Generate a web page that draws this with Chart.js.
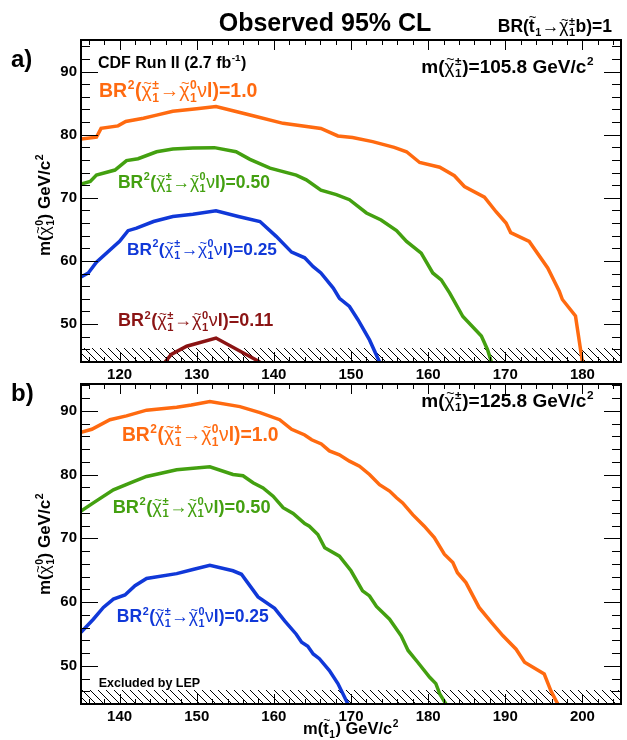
<!DOCTYPE html>
<html>
<head>
<meta charset="utf-8">
<script src="https://cdn.jsdelivr.net/npm/chart.js@4.4.1/dist/chart.umd.min.js"></script>
<style>
  html, body { margin: 0; padding: 0; background: #fff; }
  #wrap { position: relative; width: 627px; height: 740px; }
  #wrap canvas { position: absolute; left: 0; top: 0; }
</style>
</head>
<body>
<div id="wrap">
  <canvas id="panelA" width="627" height="740"></canvas>
  <canvas id="panelB" width="627" height="740"></canvas>
</div>
<script>
// ---- data: panel a) m(chargino) = 105.8 ----
const aOrange = [[115, 79.3], [117, 79.6], [117.6, 81.0], [119.8, 81.4], [120.8, 82.1], [123.1, 82.6], [124.8, 83.1],
  [126.9, 83.7], [130.0, 84.1], [132.5, 84.45], [134.7, 83.8], [137.3, 83.0], [141.2, 81.8], [146.1, 81.0],
  [148.3, 79.8], [150.2, 79.55], [152.8, 78.9], [155.6, 78.0], [157.2, 77.3], [158.9, 75.6], [161.5, 74.85],
  [163.4, 73.5], [164.7, 71.8], [167.3, 70.1], [168.8, 67.8], [170.1, 66.0], [170.7, 64.5], [173.1, 63.1],
  [175.5, 58.9], [177.0, 55.2], [177.4, 53.9], [179.1, 51.3], [180.0, 44]];
const aGreen = [[115, 72.2], [116.2, 72.6], [117.0, 73.6], [119.4, 74.4], [120.9, 75.9], [122.4, 76.2], [124.8, 77.3],
  [126.9, 77.75], [129.5, 77.9], [132.3, 77.95], [135.1, 77.3], [136.9, 76.1], [139.5, 74.7], [142.9, 73.6],
  [144.2, 72.85], [146.1, 71.2], [148.1, 70.5], [149.8, 69.7], [152.0, 67.6], [153.9, 66.5], [155.9, 64.8],
  [157.2, 63.1], [159.1, 61.25], [160.6, 58.1], [161.7, 57.0], [162.8, 54.9], [164.5, 51.2], [166.9, 48.1],
  [167.7, 45.95], [168.2, 44]];
const aBlue = [[115, 57.45], [115.95, 58.1], [117.0, 59.8], [120.0, 63.1], [121.1, 64.8], [122.2, 65.2], [124.4, 66.25],
  [126.9, 67.05], [129.5, 67.4], [132.5, 67.95], [135.4, 67.05], [138.2, 66.25], [140.3, 63.9], [142.3, 61.4],
  [144.0, 60.5], [145.1, 59.1], [146.1, 58.1], [147.7, 55.7], [148.5, 54.1], [149.8, 52.8], [150.9, 50.7],
  [152.4, 47.5], [153.7, 44]];
const aRed = [[125.9, 44], [126.7, 45.2], [128.7, 46.5], [132.5, 47.8], [138.2, 44]];

// ---- data: panel b) m(chargino) = 125.8 ----
const bOrange = [[135, 86.6], [136.4, 87.1], [138.75, 88.6], [140.9, 89.2], [143.5, 90.1], [147.4, 90.55], [149.3, 90.9],
  [151.7, 91.45], [155.6, 90.65], [158.2, 89.7], [160.75, 88.6], [162.3, 87.1], [164.0, 86.2], [164.9, 85.45],
  [166.15, 84.8], [167.2, 83.7], [168.5, 83.1], [169.8, 82.1], [171.1, 81.3], [172.4, 80.0], [173.7, 78.4],
  [175.0, 77.4], [175.9, 76.35], [176.7, 75.55], [178.0, 73.7], [179.5, 71.9], [180.8, 70.1], [182.1, 67.5],
  [183.2, 66.2], [183.8, 64.6], [184.9, 63.05], [186.6, 59.15], [188.2, 56.8], [189.7, 54.7], [191.4, 52.6],
  [192.5, 50.55], [195.05, 48.7], [195.9, 46.1], [196.8, 44]];
const bGreen = [[135, 74.25], [136.6, 75.55], [139.2, 77.6], [141.8, 78.9], [143.5, 79.7], [147.4, 80.75], [151.7, 81.2],
  [154.7, 80.0], [156.0, 79.8], [157.3, 78.7], [158.6, 77.9], [159.9, 76.6], [161.2, 74.8], [162.5, 73.9],
  [164.0, 72.3], [164.6, 71.9], [165.7, 70.6], [166.6, 68.5], [168.5, 67.2], [170.0, 64.9], [171.5, 61.75],
  [172.4, 60.95], [173.3, 59.3], [175.0, 57.3], [176.5, 54.7], [177.4, 52.4], [178.65, 50.55], [180.2, 48.2],
  [181.0, 47.2], [181.5, 45.6], [182.3, 44]];
const bBlue = [[135, 55.25], [136.6, 57.3], [137.9, 59.15], [139.2, 60.45], [140.7, 61.1], [142.0, 62.55], [143.5, 63.7],
  [147.4, 64.45], [149.5, 65.1], [151.7, 65.75], [154.7, 64.9], [155.8, 64.35], [157.95, 60.8], [160.1, 59.0],
  [161.4, 57.05], [162.9, 54.95], [163.6, 53.7], [164.4, 53.05], [165.1, 51.85], [165.9, 51.1], [167.2, 49.25],
  [168.3, 47.2], [168.95, 45.6], [169.6, 44]];

const brValues = ['1.0', '0.50', '0.25', '0.11'];
const charginoMass = ['105.8', '125.8'];
const aXTicks = [120, 130, 140, 150, 160, 170, 180];
const bXTicks = [140, 150, 160, 170, 180, 190, 200];
const yTicks = [50, 60, 70, 80, 90];
const lepLimit = 46.2;

const ORANGE = '#ff6a10', GREEN = '#43a010', BLUE = '#1038d8', DARKRED = '#8b1414';
const FONT = '"Liberation Sans", Arial, sans-serif';
function fnt(size, bold) { return (bold ? 'bold ' : '') + size + 'px ' + FONT; }

// rich text: strings are bold text; {t, thin, tilde} a glyph; {sup, sub} stacked small script
function tokWidth(ctx, tok, size) {
  if (typeof tok === 'string') { ctx.font = fnt(size, true); return ctx.measureText(tok).width; }
  if (tok.t) { ctx.font = fnt(size, !tok.thin); return ctx.measureText(tok.t).width; }
  ctx.font = fnt(size * 0.62, true);
  const a = tok.sup ? ctx.measureText(tok.sup).width : 0;
  const b = tok.sub ? ctx.measureText(tok.sub).width : 0;
  return Math.max(a, b) + size * 0.06;
}
function drawRich(ctx, toks, x, y, size, color, align) {
  let w = 0;
  toks.forEach(t => { w += tokWidth(ctx, t, size); });
  let cx = align === 'right' ? x - w : (align === 'center' ? x - w / 2 : x);
  ctx.save();
  ctx.fillStyle = color;
  ctx.textAlign = 'left';
  ctx.textBaseline = 'alphabetic';
  toks.forEach(t => {
    const tw = tokWidth(ctx, t, size);
    if (typeof t === 'string') {
      ctx.font = fnt(size, true);
      ctx.fillText(t, cx, y);
    } else if (t.t) {
      ctx.font = fnt(size, !t.thin);
      ctx.fillText(t.t, cx, y);
      if (t.tilde) {
        ctx.font = fnt(size * 0.75, false);
        const tl = ctx.measureText('~').width;
        ctx.fillText('~', cx + (tw - tl) / 2 + size * 0.05, y - size * (t.thin ? 0.47 : 0.62));
      }
    } else {
      ctx.font = fnt(size * 0.62, true);
      if (t.sup) ctx.fillText(t.sup, cx + size * 0.03, y - size * 0.42);
      if (t.sub) ctx.fillText(t.sub, cx + size * 0.03, y + size * 0.24);
    }
    cx += tw;
  });
  ctx.restore();
}

const chi = (sup, sub) => [{ t: 'χ', thin: true, tilde: true }, { sup: sup, sub: sub }];
const brLabel = v => ['BR', { sup: '2' }, '(', ...chi('±', '1'), { t: '→', thin: true }, ...chi('0', '1'),
  { t: 'ν', thin: true }, 'l)=' + v];
const massLabel = m => ['m(', ...chi('±', '1'), ')=' + m + ' GeV/c', { sup: '2' }];
const yTitle = ['m(', ...chi('0', '1'), ') GeV/c', { sup: '2' }];

function hatchPattern() {
  const c = document.createElement('canvas');
  c.width = 8; c.height = 8;
  const g = c.getContext('2d');
  g.strokeStyle = '#000';
  g.lineWidth = 1;
  g.beginPath();
  g.moveTo(-1, -1); g.lineTo(9, 9);
  g.stroke();
  return g.createPattern(c, 'repeat');
}

// ROOT-like frame with inner ticks on all four sides
const framePlugin = {
  id: 'frame',
  afterDatasetsDraw(chart) {
    const ctx = chart.ctx, a = chart.chartArea;
    const xs = chart.scales.x, ys = chart.scales.y;
    ctx.save();
    ctx.strokeStyle = '#000';
    ctx.lineWidth = 1;
    ctx.beginPath();
    for (let v = Math.ceil(xs.min / 2) * 2; v <= xs.max; v += 2) {
      const p = Math.round(xs.getPixelForValue(v)) + 0.5;
      const len = v % 10 === 0 ? 10 : 5;
      ctx.moveTo(p, a.bottom); ctx.lineTo(p, a.bottom - len);
      ctx.moveTo(p, a.top); ctx.lineTo(p, a.top + len);
    }
    for (let v = Math.ceil(ys.min / 2) * 2; v <= ys.max; v += 2) {
      const p = Math.round(ys.getPixelForValue(v)) + 0.5;
      const len = v % 10 === 0 ? 17 : 9;
      ctx.moveTo(a.left, p); ctx.lineTo(a.left + len, p);
      ctx.moveTo(a.right, p); ctx.lineTo(a.right - len, p);
    }
    ctx.stroke();
    ctx.lineWidth = 2;
    ctx.strokeRect(a.left, a.top, a.right - a.left, a.bottom - a.top);
    ctx.restore();
    const texts = chart.options.plugins.frame.texts || [];
    texts.forEach(tx => {
      const px = tx.px !== undefined ? tx.px : xs.getPixelForValue(tx.x);
      const py = tx.py !== undefined ? tx.py : ys.getPixelForValue(tx.y);
      if (tx.rotate) {
        ctx.save();
        ctx.translate(px, py);
        ctx.rotate(-Math.PI / 2);
        drawRich(ctx, tx.toks, 0, 0, tx.size, tx.color || '#000', tx.align);
        ctx.restore();
      } else {
        drawRich(ctx, tx.toks, px, py, tx.size, tx.color || '#000', tx.align);
      }
    });
  }
};

function lineSet(points, color) {
  return {
    data: points.map(p => ({ x: p[0], y: p[1] })),
    borderColor: color,
    borderWidth: 3.5,
    pointRadius: 0,
    tension: 0,
    fill: false,
    order: 0
  };
}

function makePanel(id, cfg) {
  const pattern = hatchPattern();
  return new Chart(document.getElementById(id), {
    type: 'line',
    data: {
      datasets: cfg.lines.map(l => lineSet(l[0], l[1])).concat([{
        data: [{ x: cfg.xMin, y: lepLimit }, { x: cfg.xMax, y: lepLimit }],
        borderWidth: 0,
        pointRadius: 0,
        backgroundColor: pattern,
        fill: 'start',
        order: 5
      }])
    },
    options: {
      responsive: false,
      animation: false,
      layout: { padding: cfg.padding },
      scales: {
        x: {
          type: 'linear',
          min: cfg.xMin,
          max: cfg.xMax,
          grid: { display: false, drawTicks: false },
          border: { display: false },
          ticks: { color: '#000', font: { family: FONT, weight: 'bold', size: 15 }, padding: 4, maxRotation: 0, autoSkip: false },
          afterBuildTicks: s => { s.ticks = cfg.xTicks.map(v => ({ value: v })); },
          afterFit: s => { s.height = cfg.xHeight; }
        },
        y: {
          type: 'linear',
          min: 44,
          max: cfg.yMax,
          grid: { display: false, drawTicks: false },
          border: { display: false },
          ticks: { color: '#000', font: { family: FONT, weight: 'bold', size: 15 }, padding: 4, autoSkip: false },
          afterBuildTicks: s => { s.ticks = yTicks.map(v => ({ value: v })); },
          afterFit: s => { s.width = 81; }
        }
      },
      plugins: {
        legend: { display: false },
        tooltip: { enabled: false },
        frame: { texts: cfg.texts }
      }
    },
    plugins: [framePlugin]
  });
}

makePanel('panelA', {
  xMin: 115, xMax: 185, yMax: 95, xTicks: aXTicks, xHeight: 20,
  padding: { top: 40, right: 6, left: 0, bottom: 358 },
  lines: [[aRed, DARKRED], [aBlue, BLUE], [aGreen, GREEN], [aOrange, ORANGE]],
  texts: [
    { px: 325, py: 31, toks: ['Observed 95% CL'], size: 25, align: 'center' },
    { px: 612, py: 32, toks: ['BR(', { t: 't', tilde: true }, { sub: '1' }, { t: '→', thin: true }, ...chi('±', '1'), 'b)=1'], size: 17.5, align: 'right' },
    { px: 11, py: 67, toks: ['a)'], size: 24, align: 'left' },
    { px: 50, py: 205, toks: yTitle, size: 17, align: 'center', rotate: true },
    { x: 117.2, y: 90.57, toks: ['CDF Run II (2.7 fb', { sup: '-1' }, ')'], size: 16, align: 'left' },
    { x: 181.5, y: 89.8, toks: massLabel(charginoMass[0]), size: 19, align: 'right' },
    { x: 117.33, y: 85.9, toks: brLabel(brValues[0]), size: 19.5, color: ORANGE, align: 'left' },
    { x: 119.79, y: 71.6, toks: brLabel(brValues[1]), size: 17.5, color: GREEN, align: 'left' },
    { x: 120.95, y: 61.0, toks: brLabel(brValues[2]), size: 17.3, color: BLUE, align: 'left' },
    { x: 119.79, y: 49.67, toks: brLabel(brValues[3]), size: 18, color: DARKRED, align: 'left' }
  ]
});

makePanel('panelB', {
  xMin: 135, xMax: 205, yMax: 94.2, xTicks: bXTicks, xHeight: 36,
  padding: { top: 384, right: 6, left: 0, bottom: 0 },
  lines: [[bBlue, BLUE], [bGreen, GREEN], [bOrange, ORANGE]],
  texts: [
    { px: 11, py: 401, toks: ['b)'], size: 24, align: 'left' },
    { px: 50, py: 544, toks: yTitle, size: 17, align: 'center', rotate: true },
    { px: 351, py: 734, toks: ['m(', { t: 't', tilde: true }, { sub: '1' }, ') GeV/c', { sup: '2' }], size: 16.5, align: 'center' },
    { x: 201.5, y: 90.65, toks: massLabel(charginoMass[1]), size: 19, align: 'right' },
    { x: 140.3, y: 85.2, toks: brLabel(brValues[0]), size: 19.3, color: ORANGE, align: 'left' },
    { x: 139.1, y: 74.0, toks: brLabel(brValues[1]), size: 18.2, color: GREEN, align: 'left' },
    { x: 139.65, y: 56.8, toks: brLabel(brValues[2]), size: 17.5, color: BLUE, align: 'left' },
    { x: 137.3, y: 46.7, toks: ['Excluded by LEP'], size: 12.5, align: 'left' }
  ]
});
</script>
</body>
</html>
